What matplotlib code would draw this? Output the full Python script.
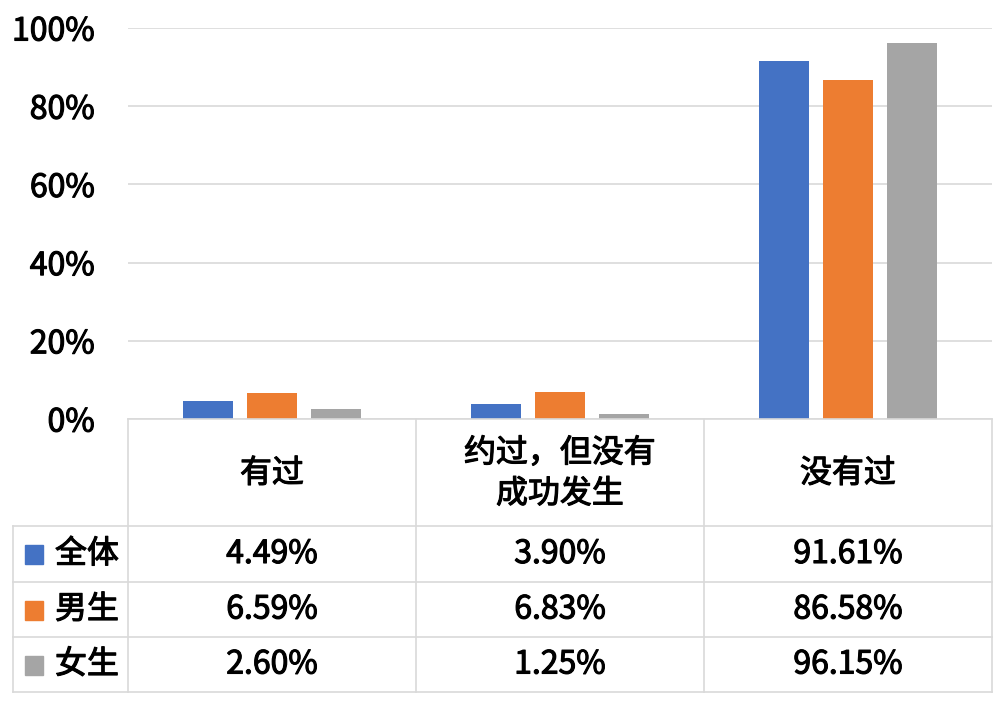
import matplotlib.pyplot as plt
import matplotlib.patheffects as pe
import numpy as np

plt.rcParams['font.family'] = ['Noto Sans CJK SC', 'DejaVu Sans']

# 数据
categories = ['有过', '约过，但没有\n成功发生', '没有过']
series = ['全体', '男生', '女生']
quanti = [4.49, 3.90, 91.61]
nansheng = [6.59, 6.83, 86.58]
nvsheng = [2.60, 1.25, 96.15]
values = [quanti, nansheng, nvsheng]
colors = ['#4472C4', '#ED7D31', '#A5A5A5']
yticks = [0, 20, 40, 60, 80, 100]

W, H = 1000, 703
fig = plt.figure(figsize=(W / 100, H / 100), dpi=100)
fs = 23
# 参考图的字体偏粗，用描边稍微加粗
bold = [pe.withStroke(linewidth=0.8, foreground='black')]

# 像素坐标 -> 图坐标
left, right, top, bottom = 128, 992, 28, 419
ax = fig.add_axes([left / W, 1 - bottom / H, (right - left) / W, (bottom - top) / H])

x = np.arange(len(categories)) + 0.5
width = 50 / 288
offsets = [-64 / 288, 0, 64 / 288]
for vals, off, c in zip(values, offsets, colors):
    ax.bar(x + off, vals, width, color=c, zorder=3, linewidth=0)

ax.set_xlim(0, len(categories))
ax.set_ylim(0, 100)
ax.set_yticks(yticks)
ax.set_yticklabels([f'{t}%' for t in yticks], fontsize=fs)
for lab in ax.get_yticklabels():
    lab.set_path_effects(bold)
ax.tick_params(axis='y', length=0, pad=24)
ax.set_xticks([])
ax.grid(axis='y', color='#d9d9d9', linewidth=1.2, zorder=0)
for s in ax.spines.values():
    s.set_visible(False)

# 下方数据表
tab = fig.add_axes([0, 0, 1, 1], facecolor='none')
tab.set_xlim(0, W)
tab.set_ylim(H, 0)
tab.axis('off')

line_c = '#d9d9d9'
col_x = [128, 416, 704, 992]
row_y = [419, 526, 582, 637, 692]

tab.plot([col_x[0], col_x[-1]], [row_y[0], row_y[0]], color=line_c, lw=1.2)
for yy in row_y[1:]:
    tab.plot([13, col_x[-1]], [yy, yy], color=line_c, lw=1.2)
for xx in col_x:
    tab.plot([xx, xx], [row_y[0], row_y[-1]], color=line_c, lw=1.2)
tab.plot([13, 13], [row_y[1], row_y[-1]], color=line_c, lw=1.2)

for i, cat in enumerate(categories):
    cx = (col_x[i] + col_x[i + 1]) / 2
    tab.text(cx, (row_y[0] + row_y[1]) / 2 + 1, cat, ha='center', va='center',
             fontsize=fs, linespacing=1.35, path_effects=bold)

for j, (name, vals, c) in enumerate(zip(series, values, colors)):
    cy = (row_y[j + 1] + row_y[j + 2]) / 2
    tab.add_patch(plt.Rectangle((25, cy - 9), 18, 19, color=c))
    tab.text(55, cy, name, ha='left', va='center', fontsize=fs, path_effects=bold)
    for i, v in enumerate(vals):
        cx = (col_x[i] + col_x[i + 1]) / 2
        tab.text(cx, cy, f'{v:.2f}%', ha='center', va='center', fontsize=fs,
                 path_effects=bold)

plt.savefig('out.png', dpi=100)
